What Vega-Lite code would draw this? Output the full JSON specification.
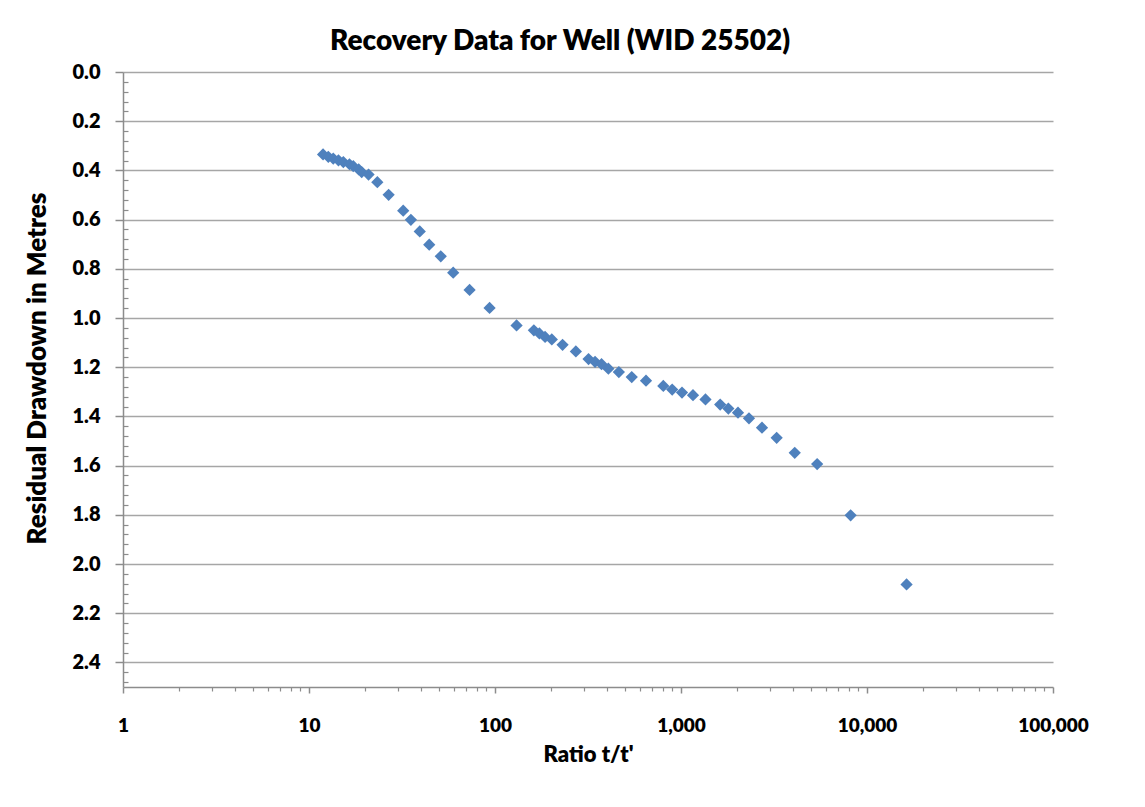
{
  "$schema": "https://vega.github.io/schema/vega-lite/v6.json",
  "width": 930,
  "height": 615,
  "autosize": "none",
  "padding": {"left": 123, "top": 72, "right": 92, "bottom": 120},
  "background": "white",
  "config": {"view": {"stroke": null}, "font": "Lato"},
  "title": {"text": "Recovery Data for Well (WID 25502)", "font": "Lato", "fontSize": 28, "fontWeight": 800, "color": "#000000", "anchor": "middle", "dx": -28, "offset": 6},
  "data": {"values": [
    {"ratio": 11.9, "drawdown": 0.335},
    {"ratio": 12.7, "drawdown": 0.345},
    {"ratio": 13.5, "drawdown": 0.352},
    {"ratio": 14.4, "drawdown": 0.359},
    {"ratio": 15.3, "drawdown": 0.366},
    {"ratio": 16.5, "drawdown": 0.375},
    {"ratio": 17.3, "drawdown": 0.383},
    {"ratio": 18.5, "drawdown": 0.396},
    {"ratio": 19.2, "drawdown": 0.407},
    {"ratio": 20.9, "drawdown": 0.417},
    {"ratio": 23.3, "drawdown": 0.448},
    {"ratio": 26.8, "drawdown": 0.499},
    {"ratio": 32.1, "drawdown": 0.564},
    {"ratio": 35.3, "drawdown": 0.601},
    {"ratio": 39.4, "drawdown": 0.648},
    {"ratio": 44.3, "drawdown": 0.702},
    {"ratio": 51.1, "drawdown": 0.749},
    {"ratio": 59.6, "drawdown": 0.816},
    {"ratio": 73.0, "drawdown": 0.886},
    {"ratio": 93.5, "drawdown": 0.959},
    {"ratio": 130.6, "drawdown": 1.030},
    {"ratio": 161.8, "drawdown": 1.050},
    {"ratio": 173.2, "drawdown": 1.063},
    {"ratio": 185.9, "drawdown": 1.077},
    {"ratio": 202.0, "drawdown": 1.087},
    {"ratio": 230.8, "drawdown": 1.109},
    {"ratio": 272.1, "drawdown": 1.136},
    {"ratio": 318.4, "drawdown": 1.167},
    {"ratio": 345.1, "drawdown": 1.178},
    {"ratio": 374.0, "drawdown": 1.188},
    {"ratio": 406.9, "drawdown": 1.206},
    {"ratio": 463.3, "drawdown": 1.220},
    {"ratio": 543.4, "drawdown": 1.240},
    {"ratio": 648.5, "drawdown": 1.255},
    {"ratio": 803.3, "drawdown": 1.276},
    {"ratio": 896.6, "drawdown": 1.291},
    {"ratio": 1012.5, "drawdown": 1.303},
    {"ratio": 1160, "drawdown": 1.314},
    {"ratio": 1354, "drawdown": 1.331},
    {"ratio": 1624, "drawdown": 1.352},
    {"ratio": 1797, "drawdown": 1.368},
    {"ratio": 2025, "drawdown": 1.385},
    {"ratio": 2320, "drawdown": 1.408},
    {"ratio": 2725, "drawdown": 1.446},
    {"ratio": 3268, "drawdown": 1.487},
    {"ratio": 4088, "drawdown": 1.548},
    {"ratio": 5395, "drawdown": 1.594},
    {"ratio": 8165, "drawdown": 1.802},
    {"ratio": 16320, "drawdown": 2.083}
  ]},
  "layer": [
    {
      "mark": {"type": "point", "shape": "diamond", "filled": true, "size": 150, "color": "#4F81BD", "opacity": 1, "strokeWidth": 0},
      "encoding": {
        "x": {
          "field": "ratio", "type": "quantitative",
          "scale": {"type": "log", "domain": [1, 100000], "nice": false},
          "axis": {
            "orient": "bottom",
            "values": [1, 10, 100, 1000, 10000, 100000],
            "format": ",",
            "grid": false,
            "domain": true, "domainColor": "#8c8c8c", "domainWidth": 1.5,
            "ticks": true, "tickSize": 6, "tickColor": "#8c8c8c", "tickWidth": 1.5,
            "labelFont": "Lato", "labelFontSize": 19, "labelFontWeight": 800, "labelColor": "#000000",
            "labelPadding": 23, "labelFlush": false, "labelOverlap": false, "labelBound": false,
            "title": "Ratio t/t'", "titleFont": "Lato", "titleFontSize": 22, "titleFontWeight": 800, "titleColor": "#000000",
            "titleBaseline": "top", "titleY": 57
          }
        },
        "y": {
          "field": "drawdown", "type": "quantitative",
          "scale": {"domain": [0, 2.5], "reverse": true, "nice": false, "zero": false},
          "axis": {
            "orient": "left",
            "values": [0, 0.2, 0.4, 0.6, 0.8, 1.0, 1.2, 1.4, 1.6, 1.8, 2.0, 2.2, 2.4],
            "format": ".1f",
            "grid": true, "gridColor": "#a6a6a6", "gridWidth": 1.5,
            "domain": true, "domainColor": "#8c8c8c", "domainWidth": 1.5,
            "ticks": true, "tickSize": 8, "tickColor": "#8c8c8c", "tickWidth": 1.5,
            "labelFont": "Lato", "labelFontSize": 20, "labelFontWeight": 800, "labelColor": "#000000",
            "labelPadding": 15, "labelOverlap": false, "labelBound": false, "labelFlush": false,
            "title": "Residual Drawdown in Metres", "titleFont": "Lato", "titleFontSize": 26, "titleFontWeight": 800, "titleColor": "#000000",
            "titleBaseline": "alphabetic", "titleX": -78, "titleY": 296, "titleAngle": -90
          }
        }
      }
    },
    {
      "mark": {"type": "point", "opacity": 0},
      "encoding": {
        "x": {
          "field": "ratio", "type": "quantitative",
          "scale": {"type": "log", "domain": [1, 100000], "nice": false},
          "axis": {
            "orient": "bottom",
            "values": [2, 3, 4, 5, 6, 7, 8, 9, 20, 30, 40, 50, 60, 70, 80, 90, 200, 300, 400, 500, 600, 700, 800, 900, 2000, 3000, 4000, 5000, 6000, 7000, 8000, 9000, 20000, 30000, 40000, 50000, 60000, 70000, 80000, 90000],
            "labels": false, "grid": false, "domain": false,
            "ticks": true, "tickSize": 4, "tickColor": "#8c8c8c", "tickWidth": 1.2,
            "title": null
          }
        },
        "y": {
          "field": "drawdown", "type": "quantitative",
          "scale": {"domain": [0, 2.5], "reverse": true, "nice": false, "zero": false},
          "axis": {
            "orient": "left",
            "values": [0.04, 0.08, 0.12, 0.16, 0.24, 0.28, 0.32, 0.36, 0.44, 0.48, 0.52, 0.56, 0.64, 0.68, 0.72, 0.76, 0.84, 0.88, 0.92, 0.96, 1.04, 1.08, 1.12, 1.16, 1.24, 1.28, 1.32, 1.36, 1.44, 1.48, 1.52, 1.56, 1.64, 1.68, 1.72, 1.76, 1.84, 1.88, 1.92, 1.96, 2.04, 2.08, 2.12, 2.16, 2.24, 2.28, 2.32, 2.36, 2.44, 2.48],
            "labels": false, "grid": false, "domain": false,
            "ticks": true, "tickSize": -5, "tickColor": "#8c8c8c", "tickWidth": 1.2,
            "title": null
          }
        }
      }
    }
  ],
  "resolve": {"axis": {"x": "independent", "y": "independent"}}
}
